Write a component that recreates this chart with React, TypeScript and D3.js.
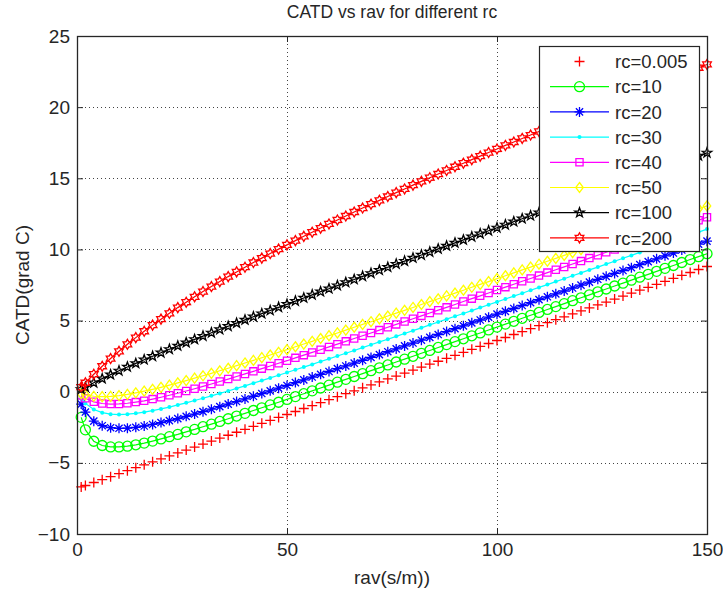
import { useEffect, useRef } from "react";
import * as d3 from "d3";

// rav (s/m) sample points
const rav = [
  1, 2, 4, 6, 8, 10, 12, 14, 16, 18, 20, 22, 24, 26, 28, 30, 32, 34, 36, 38, 40, 42, 44, 46, 48, 50,
  52, 54, 56, 58, 60, 62, 64, 66, 68, 70, 72, 74, 76, 78, 80, 82, 84, 86, 88, 90, 92, 94, 96, 98, 100,
  102, 104, 106, 108, 110, 112, 114, 116, 118, 120, 122, 124, 126, 128, 130, 132, 134, 136, 138, 140,
  142, 144, 146, 148, 150,
];

const rcLabels = ["rc=0.005", "rc=10", "rc=20", "rc=30", "rc=40", "rc=50", "rc=100", "rc=200"];

// CATD (grad C) for each rc
const catdRc0005 = [
  -6.69, -6.59, -6.38, -6.18, -5.97, -5.76, -5.55, -5.34, -5.14, -4.93, -4.72, -4.51, -4.3, -4.1, -3.89,
  -3.68, -3.47, -3.26, -3.06, -2.85, -2.64, -2.43, -2.22, -2.02, -1.81, -1.6, -1.39, -1.18, -0.98, -0.77,
  -0.56, -0.35, -0.14, 0.06, 0.27, 0.48, 0.69, 0.9, 1.1, 1.31, 1.52, 1.73, 1.94, 2.14, 2.35, 2.56, 2.77,
  2.98, 3.18, 3.39, 3.6, 3.81, 4.02, 4.22, 4.43, 4.64, 4.85, 5.06, 5.26, 5.47, 5.68, 5.89, 6.1, 6.3, 6.51,
  6.72, 6.93, 7.14, 7.34, 7.55, 7.76, 7.97, 8.18, 8.38, 8.59, 8.8,
];
const catdRc10 = [
  -1.8, -2.68, -3.48, -3.78, -3.88, -3.88, -3.83, -3.73, -3.61, -3.47, -3.32, -3.16, -3.0, -2.82, -2.65,
  -2.46, -2.28, -2.09, -1.9, -1.71, -1.52, -1.32, -1.13, -0.93, -0.74, -0.54, -0.34, -0.14, 0.06, 0.26,
  0.46, 0.67, 0.87, 1.07, 1.27, 1.48, 1.68, 1.88, 2.09, 2.29, 2.49, 2.7, 2.9, 3.11, 3.31, 3.52, 3.72, 3.93,
  4.13, 4.34, 4.54, 4.75, 4.95, 5.16, 5.37, 5.57, 5.78, 5.98, 6.19, 6.4, 6.6, 6.81, 7.02, 7.22, 7.43, 7.63,
  7.84, 8.05, 8.25, 8.46, 8.67, 8.87, 9.08, 9.29, 9.49, 9.7,
];
const catdRc20 = [
  -0.87, -1.43, -2.07, -2.39, -2.53, -2.57, -2.56, -2.5, -2.41, -2.3, -2.17, -2.03, -1.89, -1.73, -1.57,
  -1.4, -1.23, -1.05, -0.87, -0.69, -0.51, -0.32, -0.13, 0.06, 0.25, 0.44, 0.64, 0.83, 1.03, 1.22, 1.42,
  1.62, 1.81, 2.01, 2.21, 2.41, 2.61, 2.81, 3.01, 3.22, 3.42, 3.62, 3.82, 4.02, 4.23, 4.43, 4.63, 4.84,
  5.04, 5.24, 5.45, 5.65, 5.85, 6.06, 6.26, 6.47, 6.67, 6.88, 7.08, 7.29, 7.49, 7.7, 7.9, 8.11, 8.31, 8.52,
  8.72, 8.93, 9.14, 9.34, 9.55, 9.75, 9.96, 10.17, 10.37, 10.58,
];
const catdRc30 = [
  -0.48, -0.82, -1.25, -1.47, -1.58, -1.61, -1.58, -1.52, -1.44, -1.33, -1.21, -1.08, -0.93, -0.78, -0.62,
  -0.46, -0.29, -0.12, 0.05, 0.23, 0.41, 0.6, 0.78, 0.97, 1.16, 1.35, 1.54, 1.73, 1.92, 2.12, 2.31, 2.51,
  2.7, 2.9, 3.1, 3.3, 3.5, 3.69, 3.89, 4.09, 4.29, 4.49, 4.7, 4.9, 5.1, 5.3, 5.5, 5.7, 5.91, 6.11, 6.31,
  6.52, 6.72, 6.92, 7.13, 7.33, 7.53, 7.74, 7.94, 8.15, 8.35, 8.56, 8.76, 8.97, 9.17, 9.38, 9.58, 9.79,
  9.99, 10.2, 10.4, 10.61, 10.81, 11.02, 11.22, 11.43,
];
const catdRc40 = [
  -0.26, -0.46, -0.71, -0.83, -0.87, -0.86, -0.81, -0.73, -0.64, -0.52, -0.39, -0.25, -0.11, 0.05, 0.21,
  0.37, 0.54, 0.72, 0.89, 1.07, 1.25, 1.43, 1.62, 1.81, 2.0, 2.18, 2.38, 2.57, 2.76, 2.95, 3.15, 3.34,
  3.54, 3.74, 3.93, 4.13, 4.33, 4.53, 4.73, 4.93, 5.13, 5.33, 5.53, 5.73, 5.93, 6.13, 6.34, 6.54, 6.74,
  6.94, 7.15, 7.35, 7.55, 7.76, 7.96, 8.16, 8.37, 8.57, 8.77, 8.98, 9.18, 9.39, 9.59, 9.8, 10.0, 10.21,
  10.41, 10.62, 10.82, 11.03, 11.23, 11.44, 11.64, 11.85, 12.05, 12.26,
];
const catdRc50 = [
  -0.13, -0.22, -0.32, -0.35, -0.33, -0.27, -0.19, -0.08, 0.04, 0.17, 0.31, 0.46, 0.62, 0.78, 0.95, 1.12,
  1.29, 1.47, 1.65, 1.83, 2.02, 2.2, 2.39, 2.58, 2.77, 2.96, 3.16, 3.35, 3.54, 3.74, 3.94, 4.13, 4.33,
  4.53, 4.73, 4.92, 5.12, 5.32, 5.52, 5.72, 5.92, 6.13, 6.33, 6.53, 6.73, 6.93, 7.13, 7.34, 7.54, 7.74,
  7.95, 8.15, 8.35, 8.56, 8.76, 8.96, 9.17, 9.37, 9.58, 9.78, 9.99, 10.19, 10.4, 10.6, 10.8, 11.01, 11.21,
  11.42, 11.63, 11.83, 12.04, 12.24, 12.45, 12.65, 12.86, 13.06,
];
const catdRc100 = [
  0.17, 0.32, 0.63, 0.92, 1.2, 1.47, 1.74, 1.99, 2.25, 2.49, 2.74, 2.98, 3.22, 3.45, 3.68, 3.91, 4.14,
  4.37, 4.6, 4.82, 5.05, 5.27, 5.49, 5.71, 5.93, 6.15, 6.37, 6.59, 6.81, 7.03, 7.24, 7.46, 7.68, 7.89,
  8.11, 8.32, 8.54, 8.75, 8.97, 9.18, 9.4, 9.61, 9.82, 10.04, 10.25, 10.46, 10.67, 10.89, 11.1, 11.31,
  11.52, 11.73, 11.95, 12.16, 12.37, 12.58, 12.79, 13.0, 13.21, 13.43, 13.64, 13.85, 14.06, 14.27, 14.48,
  14.69, 14.9, 15.11, 15.32, 15.53, 15.74, 15.95, 16.16, 16.37, 16.58, 16.79,
];
const catdRc200 = [
  0.32, 0.63, 1.23, 1.79, 2.33, 2.84, 3.33, 3.8, 4.25, 4.68, 5.1, 5.51, 5.91, 6.29, 6.67, 7.04, 7.39,
  7.74, 8.09, 8.42, 8.75, 9.08, 9.39, 9.71, 10.02, 10.32, 10.62, 10.92, 11.21, 11.5, 11.79, 12.07, 12.35,
  12.63, 12.91, 13.18, 13.45, 13.72, 13.99, 14.25, 14.52, 14.78, 15.04, 15.3, 15.55, 15.81, 16.06, 16.31,
  16.56, 16.81, 17.06, 17.31, 17.55, 17.8, 18.04, 18.29, 18.53, 18.77, 19.01, 19.25, 19.49, 19.73, 19.97,
  20.21, 20.44, 20.68, 20.91, 21.15, 21.38, 21.61, 21.85, 22.08, 22.31, 22.54, 22.77, 23.0,
];

const xTicks = [0, 50, 100, 150];
const yTicks = [-10, -5, 0, 5, 10, 15, 20, 25];

const series = [
  { label: rcLabels[0], values: catdRc0005, color: "#ff0000", marker: "plus", line: false },
  { label: rcLabels[1], values: catdRc10, color: "#00ff00", marker: "circle", line: true },
  { label: rcLabels[2], values: catdRc20, color: "#0000ff", marker: "asterisk", line: true },
  { label: rcLabels[3], values: catdRc30, color: "#00ffff", marker: "point", line: true },
  { label: rcLabels[4], values: catdRc40, color: "#ff00ff", marker: "square", line: true },
  { label: rcLabels[5], values: catdRc50, color: "#ffff00", marker: "diamond", line: true },
  { label: rcLabels[6], values: catdRc100, color: "#000000", marker: "pentagram", line: true },
  { label: rcLabels[7], values: catdRc200, color: "#ff0000", marker: "hexagram", line: true },
];

// outline path for each MATLAB marker type, centred at 0,0
function markerPath(type: string, s: number) {
  const star = (n: number, inner: number) => {
    const pts: string[] = [];
    for (let i = 0; i < n * 2; i++) {
      const r = i % 2 === 0 ? s : s * inner;
      const a = -Math.PI / 2 + (i * Math.PI) / n;
      pts.push(`${(r * Math.cos(a)).toFixed(2)},${(r * Math.sin(a)).toFixed(2)}`);
    }
    return "M" + pts.join("L") + "Z";
  };
  const d = s * 0.72;
  switch (type) {
    case "plus":
      return `M${-s},0H${s}M0,${-s}V${s}`;
    case "asterisk":
      return `M${-s},0H${s}M0,${-s}V${s}M${-d},${-d}L${d},${d}M${-d},${d}L${d},${-d}`;
    case "square":
      return `M${-d},${-d}H${d}V${d}H${-d}Z`;
    case "diamond":
      return `M0,${-s}L${s * 0.75},0L0,${s}L${-s * 0.75},0Z`;
    case "pentagram":
      return star(5, 0.4);
    case "hexagram":
      return star(6, 0.58);
    default:
      return "";
  }
}

function drawMarker(g: any, type: string, color: string, s: number) {
  if (type === "circle") {
    g.append("circle").attr("r", s).attr("fill", "none").attr("stroke", color).attr("stroke-width", 1.3);
  } else if (type === "point") {
    g.append("circle").attr("r", 2).attr("fill", color);
  } else {
    g.append("path")
      .attr("d", markerPath(type, s))
      .attr("fill", "none")
      .attr("stroke", color)
      .attr("stroke-width", 1.3);
  }
}

export default function App() {
  const svgRef = useRef<SVGSVGElement>(null);

  useEffect(() => {
    const svg = d3.select(svgRef.current);
    svg.selectAll("*").remove();

    const width = 723;
    const height = 590;
    const plot = { left: 77, right: 707, top: 36, bottom: 534 };
    const font = "'Liberation Sans', Arial, Helvetica, sans-serif";
    const textColor = "#262626";

    const x = d3.scaleLinear().domain([0, 150]).range([plot.left, plot.right]);
    const y = d3.scaleLinear().domain([-10, 25]).range([plot.bottom, plot.top]);

    svg.append("rect").attr("width", width).attr("height", height).attr("fill", "#fff");

    // dotted grid
    const grid = svg.append("g").attr("stroke", "#444").attr("stroke-width", 1).attr("stroke-dasharray", "1,3");
    grid
      .selectAll("line.gx")
      .data(xTicks.slice(1, -1))
      .enter()
      .append("line")
      .attr("x1", d => x(d) + 0.5)
      .attr("x2", d => x(d) + 0.5)
      .attr("y1", plot.top)
      .attr("y2", plot.bottom);
    grid
      .selectAll("line.gy")
      .data(yTicks.slice(1, -1))
      .enter()
      .append("line")
      .attr("x1", plot.left)
      .attr("x2", plot.right)
      .attr("y1", d => Math.round(y(d)) + 0.5)
      .attr("y2", d => Math.round(y(d)) + 0.5);

    // series
    const line = d3
      .line<number>()
      .x((_, i) => x(rav[i]))
      .y(d => y(d));

    const ms = 5;
    series.forEach(s => {
      const g = svg.append("g");
      if (s.line) {
        g.append("path")
          .attr("d", line(s.values))
          .attr("fill", "none")
          .attr("stroke", s.color)
          .attr("stroke-width", 1.2);
      }
      g.selectAll("g.m")
        .data(s.values)
        .enter()
        .append("g")
        .attr("transform", (d, i) => `translate(${x(rav[i])},${y(d)})`)
        .each(function () {
          drawMarker(d3.select(this), s.marker, s.color, ms);
        });
    });

    // axes box with inward ticks
    const axisColor = "#262626";
    const xb = svg
      .append("g")
      .attr("transform", `translate(0,${plot.bottom})`)
      .call(d3.axisBottom(x).tickValues(xTicks).tickSize(-6).tickPadding(9).tickFormat(d3.format("d")));
    const yl = svg
      .append("g")
      .attr("transform", `translate(${plot.left},0)`)
      .call(d3.axisLeft(y).tickValues(yTicks).tickSize(-6).tickPadding(7).tickFormat(d3.format("d")));
    svg
      .append("g")
      .attr("transform", `translate(0,${plot.top})`)
      .call(d3.axisTop(x).tickValues(xTicks).tickSize(-6).tickFormat(() => ""));
    svg
      .append("g")
      .attr("transform", `translate(${plot.right},0)`)
      .call(d3.axisRight(y).tickValues(yTicks).tickSize(-6).tickFormat(() => ""));
    svg.selectAll(".domain").remove();
    svg.selectAll(".tick line").attr("stroke", axisColor);
    [xb, yl].forEach(a =>
      a.selectAll("text").attr("font-size", 19).attr("font-family", font).attr("fill", textColor)
    );

    svg
      .append("rect")
      .attr("x", plot.left + 0.5)
      .attr("y", plot.top + 0.5)
      .attr("width", plot.right - plot.left)
      .attr("height", plot.bottom - plot.top)
      .attr("fill", "none")
      .attr("stroke", axisColor)
      .attr("stroke-width", 1.3);

    // legend
    const lg = { x: 539, y: 46, w: 160, h: 205, row: 25.2 };
    const legend = svg.append("g").attr("transform", `translate(${lg.x},${lg.y})`);
    legend
      .append("rect")
      .attr("x", 0.5)
      .attr("y", 0.5)
      .attr("width", lg.w)
      .attr("height", lg.h)
      .attr("fill", "#fff")
      .attr("stroke", axisColor)
      .attr("stroke-width", 1.2);
    series.forEach((s, i) => {
      const row = legend.append("g").attr("transform", `translate(0,${15.5 + i * lg.row})`);
      if (s.line) {
        row.append("line")
          .attr("x1", 11)
          .attr("x2", 70)
          .attr("stroke", s.color)
          .attr("stroke-width", 1.2);
      }
      drawMarker(row.append("g").attr("transform", "translate(40.5,0)"), s.marker, s.color, ms);
      row.append("text")
        .attr("x", 76)
        .attr("dy", "0.36em")
        .attr("font-size", 18.5)
        .attr("font-family", font)
        .attr("fill", textColor)
        .text(s.label);
    });

    // titles
    svg
      .append("text")
      .attr("x", (plot.left + plot.right) / 2)
      .attr("y", 18)
      .attr("text-anchor", "middle")
      .attr("font-size", 17.5)
      .attr("font-family", font)
      .attr("fill", textColor)
      .text("CATD vs rav for different rc");
    svg
      .append("text")
      .attr("x", (plot.left + plot.right) / 2)
      .attr("y", 584)
      .attr("text-anchor", "middle")
      .attr("font-size", 19)
      .attr("font-family", font)
      .attr("fill", textColor)
      .text("rav(s/m))");
    svg
      .append("text")
      .attr("transform", `translate(29,${(plot.top + plot.bottom) / 2}) rotate(-90)`)
      .attr("text-anchor", "middle")
      .attr("font-size", 19)
      .attr("font-family", font)
      .attr("fill", textColor)
      .text("CATD(grad C)");
  }, []);

  return (
    <svg
      ref={svgRef}
      width={723}
      height={590}
      viewBox="0 0 723 590"
      style={{ position: "absolute", left: 0, top: 0, display: "block" }}
    />
  );
}
